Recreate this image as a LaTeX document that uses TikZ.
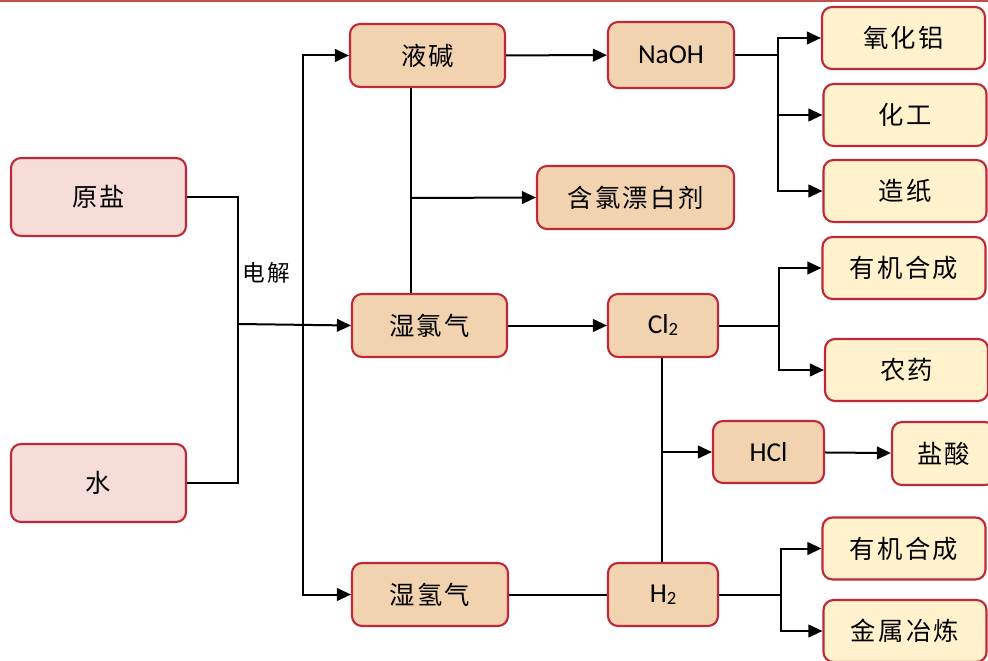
\documentclass[tikz,border=0pt]{standalone}
\usepackage{fontspec}
\setmainfont{Carlito}
\newfontfamily\cjk[LetterSpace=9]{Noto Sans CJK SC}
\usepackage{xcolor}
\definecolor{rawPink}{HTML}{F6DDD8}
\definecolor{midTan}{HTML}{F1D3AF}
\definecolor{prodYellow}{HTML}{FFF2CC}
\definecolor{boxRed}{HTML}{C0283A}
\definecolor{topRed}{HTML}{C0504D}
\usepackage{tikz}
\usetikzlibrary{arrows.meta,positioning}

\begin{document}
\begin{tikzpicture}[x=0.75pt,y=-0.75pt,line width=1.5pt,>={Triangle[length=10.5pt,width=9.5pt]},
  box/.style={draw=boxRed,line width=1.6pt,rounded corners=7.5pt,inner sep=0pt,font=\cjk\fontsize{19}{19}\selectfont},
  rawbox/.style={box,fill=rawPink,minimum width=131.25pt,minimum height=58.5pt},
  midbox/.style={box,fill=midTan,minimum height=47.25pt},
  prodbox/.style={box,fill=prodYellow,minimum width=122.25pt,minimum height=46.5pt},
  latin/.style={font=\fontsize{20.5}{20.5}\selectfont}]
  \clip (0,0) rectangle (988,660);
  \draw[topRed] (0,1) -- (988,1);
  % raw materials
  \node[rawbox] (yuanyan) at (98.5,197) {原盐};
  \node[rawbox] (shui) at (98.5,483) {水};
  % intermediates
  \node[midbox,minimum width=116.25pt] (yejian) at (427.5,55.5) {液碱};
  \node[midbox,minimum width=116.25pt] (shilvqi) at (429.5,325.5) {湿氯气};
  \node[midbox,minimum width=117pt] (shiqingqi) at (430,594.5) {湿氢气};
  \node[midbox,latin,minimum width=94.5pt,minimum height=49.5pt] (naoh) at (671,55) {NaOH};
  \node[midbox,minimum width=147.75pt] (piaobai) at (635.5,197.5) {含氯漂白剂};
  \node[midbox,latin,minimum width=82.5pt] (cl2) at (663,325.5) {Cl{\fontsize{14}{14}\selectfont\raisebox{-1.5pt}{2}}};
  \node[midbox,latin,minimum width=82.5pt] (h2) at (663,594.5) {H{\fontsize{14}{14}\selectfont\raisebox{-1.5pt}{2}}};
  \node[midbox,latin,minimum width=83.25pt,minimum height=46.5pt] (hcl) at (768.5,452) {HCl};
  % products
  \node[prodbox] (yanghualv) at (903.5,38) {氧化铝};
  \node[prodbox] (huagong) at (905,115) {化工};
  \node[prodbox] (zaozhi) at (905,191) {造纸};
  \node[prodbox] (youjiA) at (904,268) {有机合成};
  \node[prodbox] (nongyao) at (906.5,370) {农药};
  \node[prodbox,minimum width=77.25pt,minimum height=47.25pt] (yansuan) at (943.5,453.5) {盐酸};
  \node[prodbox] (youjiB) at (904,548.5) {有机合成};
  \node[prodbox] (jinshu) at (905,631) {金属冶炼};
  % junctions
  \coordinate (dianjie) at (238,324);
  \coordinate (bus) at (303,324);
  \coordinate (jlv) at (411,198);
  \coordinate (jnaoh) at (778,55);
  \coordinate (jcl) at (779,325.5);
  \coordinate (jhcl) at (662,452);
  \coordinate (jh) at (781,594.5);
  \node[font=\cjk\fontsize{17}{17}\selectfont] (lbl) at (266,273) {电解};
  % connectors
  \draw (yuanyan.east) -| (dianjie);
  \draw (shui.east) -| (dianjie);
  \draw[->] (dianjie) -- (shilvqi.west);
  \draw[->] (bus) |- (yejian.west);
  \draw[->] (bus) |- (shiqingqi.west);
  \draw (jlv |- yejian.south) -- (jlv |- shilvqi.north);
  \draw[->] (jlv) -- (piaobai.west);
  \draw[->] (yejian) -- (naoh);
  \draw (naoh.east) -- (jnaoh);
  \draw[->] (jnaoh) |- (yanghualv.west);
  \draw[->] (jnaoh) |- (huagong.west);
  \draw[->] (jnaoh) |- (zaozhi.west);
  \draw[->] (shilvqi) -- (cl2);
  \draw (cl2.east) -- (jcl);
  \draw[->] (jcl) |- (youjiA.west);
  \draw[->] (jcl) |- (nongyao.west);
  \draw (jhcl |- cl2.south) -- (jhcl |- h2.north);
  \draw[->] (jhcl) -- (hcl.west);
  \draw[->] (hcl) -- (yansuan);
  \draw (shiqingqi) -- (h2);
  \draw (h2.east) -- (jh);
  \draw[->] (jh) |- (youjiB.west);
  \draw[->] (jh) |- (jinshu.west);
\end{tikzpicture}
\end{document}
